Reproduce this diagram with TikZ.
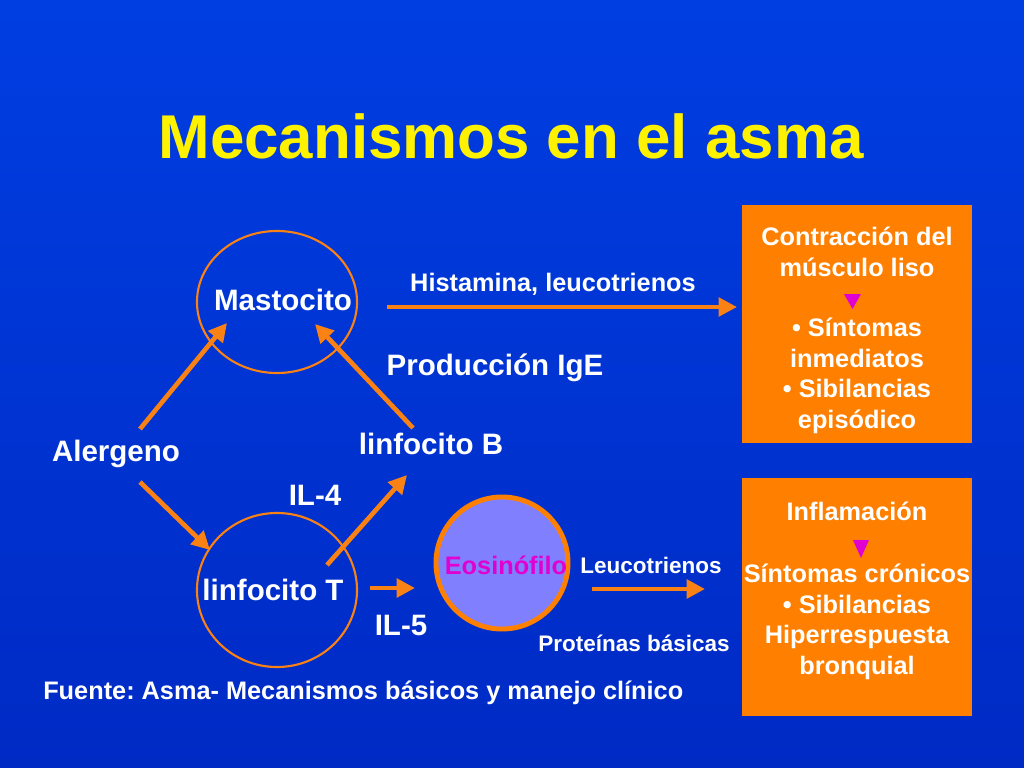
\documentclass[tikz,border=0pt]{standalone}
\usepackage{fontspec}
\setmainfont{Liberation Sans}
\frenchspacing
\usetikzlibrary{shapes.geometric,arrows.meta,calc}
\definecolor{bgtop}{RGB}{0,62,226}
\definecolor{bgbot}{RGB}{0,42,196}
\definecolor{naranja}{RGB}{255,128,0}
\definecolor{flecha}{RGB}{250,130,20}
\definecolor{lila}{RGB}{128,128,255}
\definecolor{fucsia}{RGB}{225,0,210}
\begin{document}
\begin{tikzpicture}[x=0.025cm,y=-0.025cm,
  txt/.style={text=white,font=\fontsize{21}{25}\selectfont\bfseries,inner sep=0pt},
  small/.style={text=white,font=\fontsize{16}{19}\selectfont\bfseries,inner sep=0pt},
  celula/.style={ellipse,draw=flecha,line width=1.5pt,minimum width=4cm,inner sep=0pt},
  caja/.style={fill=naranja,minimum width=5.75cm,minimum height=5.95cm,inner sep=0pt},
  boxtxt/.style={text=white,align=center,font=\fontsize{18}{21.8}\selectfont\bfseries,inner sep=0pt},
  flechita/.style={draw=flecha,line width=3.3pt,-{Triangle[length=13pt,width=13pt]}}]
\shade[top color=bgtop,bottom color=bgbot] (0,0) rectangle (1024,768);
\useasboundingbox (0,0) rectangle (1024,768);

\node[text=yellow,font=\fontsize{44}{50}\selectfont\bfseries,inner sep=0pt] (titulo) at (511,136) {Mecanismos en el asma};

\node[celula,minimum height=3.55cm] (mastc) at (277,302) {};
\node[celula,minimum height=3.85cm] (linTc) at (277,590) {};
\node[circle,draw=naranja,fill=lila,line width=3.5pt,minimum size=3.3cm,inner sep=0pt] (eosc) at (502,563) {};
\node[txt] (mast) at (283,300) {Mastocito};
\node[txt] (linT) at (273,590) {linfocito T};
\node[text=fucsia,font=\fontsize{18}{21}\selectfont\bfseries,inner sep=0pt] (eos) at (506,565) {Eosinófilo};
\node[txt] (aler) at (116,454) {Alergeno};
\node[txt] (linB) at (431,444) {linfocito B};
\node[txt] (ige) at (495,368) {Producción IgE};
\node[txt] (il4) at (315,495) {IL-4};
\node[txt] (il5) at (401,625) {IL-5};
\node[text=white,font=\fontsize{18}{21}\selectfont\bfseries,inner sep=0pt] (hist) at (553,284) {Histamina, leucotrienos};
\node[small] (leu) at (651,565) {Leucotrienos};
\node[small] (prot) at (634,643) {Proteínas básicas};

\node[caja] (box1) at (857,324) {};
\node[caja] (box2) at (857,597) {};
\node[boxtxt] (contr) at (857,252) {Contracción del\\músculo liso};
\node[boxtxt] (inmed) at (857,376) {• Síntomas\\inmediatos\\• Sibilancias\\episódico};
\node[boxtxt] (infl) at (857,511) {Inflamación};
\node[boxtxt] (cron) at (857,622) {Síntomas crónicos\\• Sibilancias\\Hiperrespuesta\\bronquial};
\fill[fucsia] (844,294) -- (861,294) -- (852.5,309) -- cycle;
\fill[fucsia] (853,540) -- (869,540) -- (861,558) -- cycle;

\node[text=white,font=\fontsize{18}{21}\selectfont\bfseries,inner sep=0pt,anchor=west] (fuente) at (43,693) {Fuente: Asma- Mecanismos básicos y manejo clínico};

\draw[flechita] ($(aler)+(24,-25)$) -- ($(mastc)+(-50,21)$);
\draw[flechita] ($(linB)+(-18,-16)$) -- ($(mastc)+(38,22)$);
\draw[flechita] ($(aler)+(24,28)$) -- ($(linTc)+(-67,-40)$);
\draw[flechita] ($(linTc)+(50,-25)$) -- ($(linB)+(-24,31)$);
\draw[flechita] ($(linTc)+(93,-2)$) -- ($(eosc)+(-87,25)$);
\draw[flechita,line width=3pt] ($(mastc)+(110,5)$) -- ($(box1)+(-120,-17)$);
\draw[flechita] ($(eosc)+(90,26)$) -- ($(box2)+(-152,-8)$);
\end{tikzpicture}
\end{document}
